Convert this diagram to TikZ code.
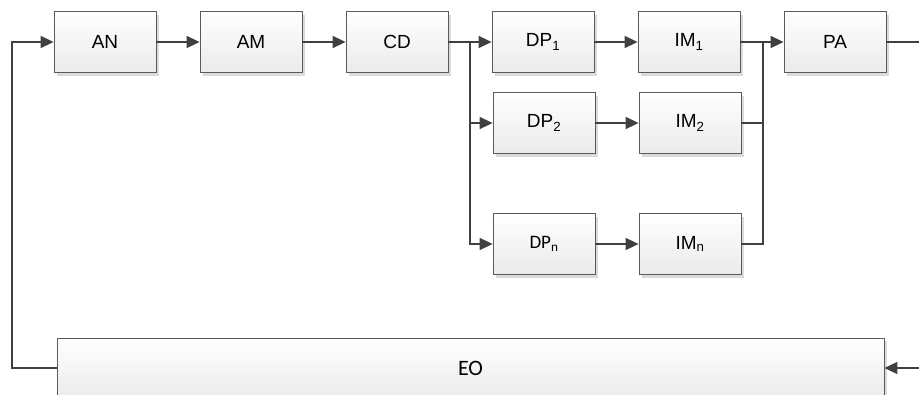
\documentclass[tikz,border=0pt]{standalone}
\usepackage{fontspec}
\setmainfont{Liberation Sans}
\newfontfamily\calfont{Carlito}
\usetikzlibrary{arrows.meta,shadows}

\definecolor{linegray}{HTML}{404040}
\definecolor{boxgray}{HTML}{5A5A5A}

\tikzset{
    block/.style={draw=boxgray, line width=0.8pt, top color=white, bottom color=black!8,
        minimum width=102pt, minimum height=61pt, inner sep=0pt,
        font=\fontsize{19}{21}\selectfont,
        drop shadow={shadow xshift=3pt, shadow yshift=-3pt, fill=black!14, opacity=1}},
    wire/.style={draw=linegray, line width=1.6pt},
    flow/.style={wire, -{Triangle[length=13pt,width=12pt]}}
}

\begin{document}
\begin{tikzpicture}[x=1pt,y=-1pt]
    \useasboundingbox (0,0) rectangle (919,394);

    % Main chain
    \node[block] (AN) at (105,42) {AN};
    \node[block] (AM) at (251,42) {AM};
    \node[block] (CD) at (397,42) {CD};
    \node[block] (PA) at (835,42) {PA};

    % Parallel branches
    \node[block] (DP1) at (543,42) {DP\textsubscript{1}};
    \node[block] (IM1) at (689,42) {IM\textsubscript{1}};
    \node[block] (DP2) at (544,123) {DP\textsubscript{2}};
    \node[block] (IM2) at (690,123) {IM\textsubscript{2}};
    \node[block, font=\calfont\fontsize{19}{21}\selectfont] (DPn) at (544,244) {DP\textsubscript{n}};
    \node[block] (IMn) at (690,244) {IM\textsubscript{n}};

    % Feedback block
    \node[block, minimum width=827pt, minimum height=60pt, font=\calfont\fontsize{22}{24}\selectfont] (EO) at (470.5,368) {EO};

    % Split, merge and loose ends
    \coordinate (split) at (470,42);
    \coordinate (merge) at (763,42);
    \coordinate (back) at (12,42);
    \coordinate (out) at (925,42);
    \coordinate (in) at (925,368);

    % Connectors
    \draw[flow] (AN) -- (AM);
    \draw[flow] (AM) -- (CD);
    \draw[wire] (CD) -- (split);
    \draw[flow] (split) -- (DP1);
    \draw[flow] (split) |- (DP2);
    \draw[flow] (split) |- (DPn);
    \draw[flow] (DP1) -- (IM1);
    \draw[flow] (DP2) -- (IM2);
    \draw[flow] (DPn) -- (IMn);
    \draw[flow] (IM1) -- (PA);
    \draw[wire] (IM2) -| (merge);
    \draw[wire] (IMn) -| (merge);
    \draw[wire] (PA) -- (out);
    \draw[flow] (in) -- (EO);
    \draw[flow] (EO.west) -| (back) -- (AN);

\end{tikzpicture}
\end{document}
